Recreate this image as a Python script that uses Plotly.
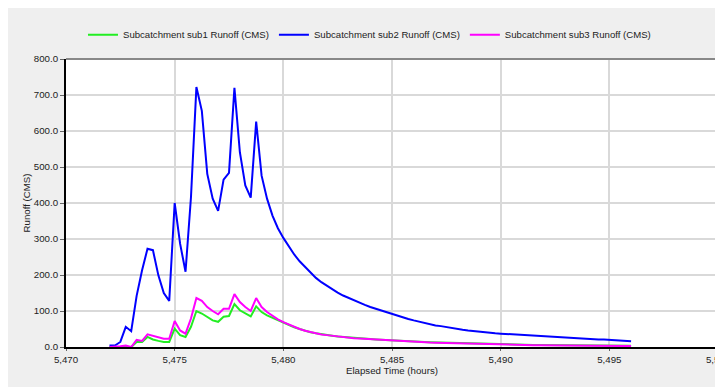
import plotly.graph_objects as go

# Time axis: 15-minute steps from 5472.0 to 5496.0 hours
t_start = 5472.0
t_step = 0.25

sub1_runoff = [
    0, 0, 0, 0, 0, 14, 14, 28, 21, 17, 14, 14,
    51, 33, 28, 56, 100, 93, 84, 74, 70, 84, 86, 119,
    102, 93, 85, 113, 97, 88, 81, 74, 67, 61, 55, 50,
    45, 41, 38, 35, 33, 31, 29, 27.5, 26, 25, 24, 23,
    22, 21, 20, 19, 18, 17.5, 16.5, 16, 15, 14.5, 14, 13.5,
    13, 12.5, 12, 11.5, 11, 10.5, 10, 9.5, 9, 8.5, 8.2, 7.8,
    7.5, 7.2, 6.9, 6.6, 6.3, 6, 5.8, 5.6, 5.4, 5.2, 5, 4.8,
    4.6, 4.4, 4.3, 4.1, 4, 3.9, 3.8, 3.7, 3.6, 3.5, 3.4, 3.3, 3.2,
]

sub2_runoff = [
    4, 4, 14, 56, 44, 142, 213, 273, 269, 199, 150, 128,
    400, 287, 209, 416, 722, 656, 481, 412, 378, 465, 484, 720,
    541, 449, 415, 626, 476, 412, 365, 330, 303, 278, 257, 238,
    222, 206, 192, 180, 170, 160, 151, 143, 136, 129, 123, 117,
    111, 106, 101, 96, 91, 87, 82, 78, 74, 70, 67, 63,
    60, 58, 55, 52, 50, 48, 46, 44, 43, 41, 40, 38,
    37, 36, 35, 34, 33, 32, 31, 30, 29, 28, 27, 26,
    25, 24.5, 24, 23, 22.5, 22, 21, 20.5, 20, 19, 18, 17, 16,
]

sub3_runoff = [
    0, 0, 2, 4, 0, 20, 17, 35, 31, 28, 23, 23,
    72, 46, 37, 79, 136, 128, 111, 100, 91, 106, 106, 147,
    125, 111, 100, 136, 111, 97, 86, 77, 69, 62, 56, 50,
    45, 41, 38, 35, 33, 31, 29, 27, 26, 24.5, 23.5, 22.5,
    21.5, 20.5, 19.5, 18.5, 17.5, 16.5, 16, 15, 14.5, 14, 13, 12.5,
    12, 11.5, 11, 10.5, 10, 9.5, 9, 8.5, 8, 7.5, 7, 6.8,
    6.5, 6.2, 6, 5.8, 5.5, 5.3, 5, 4.8, 4.6, 4.4, 4.2, 4,
    3.9, 3.8, 3.6, 3.5, 3.4, 3.3, 3.2, 3.1, 3, 2.9, 2.8, 2.7, 2.6,
]

times = [t_start + t_step * i for i in range(len(sub2_runoff))]

series_names = [
    "Subcatchment sub1 Runoff (CMS)",
    "Subcatchment sub2 Runoff (CMS)",
    "Subcatchment sub3 Runoff (CMS)",
]
series_colors = ["#22EE22", "#0000FF", "#FF00FF"]

fig = go.Figure()
for name, vals, col in zip(series_names, [sub1_runoff, sub2_runoff, sub3_runoff], series_colors):
    fig.add_trace(go.Scatter(x=times, y=vals, mode="lines", name=name,
                             line=dict(color=col, width=2)))

# figure sits at an 8px page offset (default body margin)
W, H = 715, 379
L, R, T, B = 58, 4.5, 51.3, 40.3
pw = W - L - R
ph = H - T - B

fig.update_layout(
    width=W, height=H,
    margin=dict(l=L, r=R, t=T, b=B, pad=0, autoexpand=False),
    paper_bgcolor="#EFEFEF",
    plot_bgcolor="white",
    font=dict(family="Liberation Sans, Arial, sans-serif", size=9.7, color="#222"),
    showlegend=True,
    legend=dict(orientation="h", x=(75 - L) / pw, xanchor="left",
                y=1.0 + (T - 27) / ph, yanchor="middle",
                bgcolor="rgba(0,0,0,0)",
                font=dict(size=9.6, color="#222"),
                tracegroupgap=0),
    xaxis=dict(range=[5470, 5500], dtick=5, tick0=5470, tickformat=",d",
               showgrid=True, gridcolor="#D9D9D9", gridwidth=2,
               showline=True, linecolor="black", linewidth=2,
               ticks="outside", ticklen=2, tickcolor="#666",
               zeroline=False, automargin=False, ticklabeloverflow="allow",
               title=dict(text="Elapsed Time (hours)", standoff=2,
                          font=dict(size=9.7, color="#222"))),
    yaxis=dict(range=[0, 800], dtick=100, tickformat=".1f",
               showgrid=True, gridcolor="#D9D9D9", gridwidth=1.5,
               showline=True, linecolor="black", linewidth=2,
               ticks="outside", ticklen=4, tickcolor="#666",
               zeroline=False, automargin=False,
               title=dict(text="Runoff (CMS)", standoff=1,
                          font=dict(size=9.7, color="#222"))),
    shapes=[
        dict(type="line", xref="paper", yref="paper", x0=0, x1=1, y0=1, y1=1,
             line=dict(color="#888", width=2)),
    ],
)

fig.write_html("out.html")
